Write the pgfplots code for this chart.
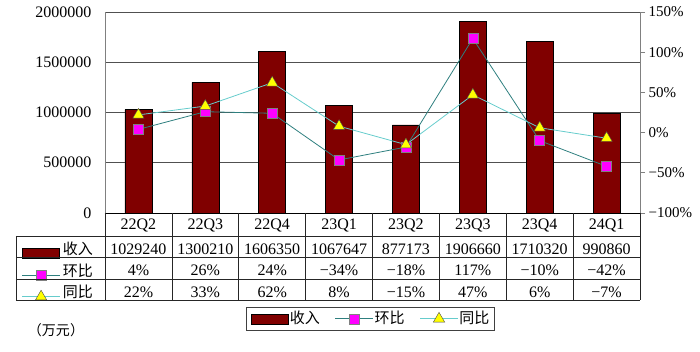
\documentclass[border=0pt]{standalone}
\usepackage{pgfplots}
\usepackage{pgfplotstable}
\pgfplotsset{compat=1.18}
\usepackage{fontspec}
\setmainfont{Liberation Serif}
\newfontfamily\cjk{Noto Sans CJK SC}
\definecolor{barred}{HTML}{800000}
\definecolor{hbline}{HTML}{2E7F7F}
\definecolor{tbline}{HTML}{66CCCC}
\definecolor{gridc}{HTML}{505050}
\definecolor{mkmag}{HTML}{FF00FF}
\definecolor{mkyel}{HTML}{FFFF00}
\newcommand\fs{\fontsize{15}{18}\selectfont}
\newcommand\fn{\fontsize{16}{19}\selectfont}
\pgfplotsset{
  mylinelegend/.style={legend image code/.code={\draw[mark repeat=2,mark phase=2,##1] plot coordinates {(0pt,-6pt) (19pt,-6pt) (38pt,-6pt)};}},
  mybarlegend/.style={legend image code/.code={\draw[fill=barred,draw=black,line width=0.5pt] (0pt,-11pt) rectangle (37pt,-1pt);}},
  mybarlegendB/.style={legend image code/.code={\draw[fill=barred,draw=black,line width=0.5pt] (0pt,-5pt) rectangle (37pt,5pt);}},
  mylinelegendB/.style={legend image code/.code={\draw[mark repeat=2,mark phase=2,##1] plot coordinates {(0pt,0pt) (19pt,0pt) (38pt,0pt)};}},
  hbstyle/.style={color=hbline, line width=0.8pt, mark=square*, mark size=5pt, mark options={fill=mkmag, draw=gray, line width=0.4pt, solid}},
  tbstyle/.style={color=tbline, line width=0.8pt, mark=triangle*, mark size=6.5pt, mark options={fill=mkyel, draw=black!70, line width=0.4pt, solid}},
}
\pgfplotstableread{
x rev hb tb
0 1029240 4 22
1 1300210 26 33
2 1606350 24 62
3 1067647 -34 8
4 877173 -18 -15
5 1906660 117 47
6 1710320 -10 6
7 990860 -42 -7
}\datatable
\begin{document}
\begin{tikzpicture}[x=1pt,y=1pt]
\path (-105,-139) rectangle (595,213);
\begin{axis}[
  at={(0pt,0pt)}, anchor=south west, scale only axis, width=535pt, height=201pt,
  xmin=-0.5, xmax=7.5, ymin=0, ymax=2000000,
  axis x line*=bottom, axis y line*=left,
  x axis line style={black, line width=0.8pt}, y axis line style={gray, line width=0.8pt},
  xtick={0,...,7}, xticklabels={22Q2,22Q3,22Q4,23Q1,23Q2,23Q3,23Q4,24Q1},
  major tick length=0pt,
  xticklabel style={anchor=base, yshift=-17pt},
  ytick={0,500000,1000000,1500000,2000000}, scaled y ticks=false,
  yticklabel style={/pgf/number format/fixed, /pgf/number format/1000 sep={}, xshift=-10pt},
  /pgf/number format/assume math mode=true,
  tick label style={font=\fn},
  ymajorgrids, grid style={gridc, line width=0.8pt},
  legend cell align=left,
  legend style={at={(axis description cs:-0.1561,-0.1144)}, anchor=north west, draw=none, fill=none, inner sep=0pt, row sep=0pt, font=\cjk\fs,
    nodes={inner sep=0pt, text height=18pt, text depth=3.5pt},
    /tikz/every odd column/.append style={column sep=2.5pt}},
]
\addplot[ybar, bar width=27pt, bar shift=0pt, fill=barred, draw=black, line width=0.5pt, mybarlegend] table[x=x, y=rev] {\datatable};
\addlegendentry{收入}
\addlegendimage{hbstyle, mylinelegend}
\addlegendentry{环比}
\addlegendimage{tbstyle, mylinelegend}
\addlegendentry{同比}
\end{axis}
\begin{axis}[
  at={(0pt,0pt)}, anchor=south west, scale only axis, width=535pt, height=201pt,
  xmin=-0.5, xmax=7.5, ymin=-100, ymax=150,
  axis x line=none, axis y line*=right,
  y axis line style={gray, line width=0.8pt},
  ytick={-100,-50,0,50,100,150},
  yticklabels={−100\%,−50\%,0\%,50\%,100\%,150\%},
  tick align=outside, major tick length=5pt, ytick style={gray, line width=0.6pt},
  tick label style={font=\fs},
  clip=false,
  legend columns=3,
  legend cell align=left,
  legend style={at={(axis description cs:0.2636,-0.4677)}, anchor=north west, draw=black!75, line width=0.6pt, fill=white, inner xsep=5pt, inner ysep=3pt, font=\cjk\fs,
    nodes={inner sep=0pt, text height=13pt, text depth=4pt},
    /tikz/every odd column/.append style={column sep=1pt},
    /tikz/every even column/.append style={column sep=15pt}},
]
\addlegendimage{mybarlegendB}
\addlegendentry{收入}
\addplot[hbstyle, mylinelegendB] table[x=x, y=hb] {\datatable};
\addlegendentry{环比}
\addplot[tbstyle, mylinelegendB] table[x=x, y=tb] {\datatable};
\addlegendentry{同比}
\end{axis}
% data table grid
\begin{scope}[draw=black!85, line width=0.7pt]
\foreach \k in {0,...,8} \draw ({66.875*\k},0) -- ({66.875*\k},-87);
\draw (-89,-23) -- (535,-23);
\draw (-89,-44.5) -- (535,-44.5);
\draw (-89,-66) -- (535,-66);
\draw (-89,-87) -- (535,-87);
\draw (-89,-23) -- (-89,-87);
\end{scope}
\foreach \v [count=\i from 0] in {1029240,1300210,1606350,1067647,877173,1906660,1710320,990860}
  \node[anchor=base, inner sep=0pt, font=\fn] at ({66.875*(\i+0.5)},-41.5) {\v};
\foreach \v [count=\i from 0] in {4\%,26\%,24\%,−34\%,−18\%,117\%,−10\%,−42\%}
  \node[anchor=base, inner sep=0pt, font=\fn] at ({66.875*(\i+0.5)},-63) {\v};
\foreach \v [count=\i from 0] in {22\%,33\%,62\%,8\%,−15\%,47\%,6\%,−7\%}
  \node[anchor=base, inner sep=0pt, font=\fn] at ({66.875*(\i+0.5)},-84.5) {\v};
\node[font=\cjk\fontsize{14}{16}\selectfont, inner sep=0pt] at (-49,-117) {（万元）};
\end{tikzpicture}
\end{document}
